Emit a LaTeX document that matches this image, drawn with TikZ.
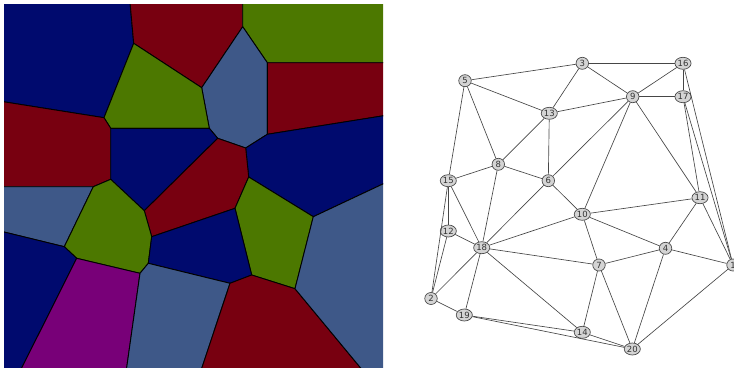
\documentclass[tikz,border=0pt]{standalone}
\usepackage{fontspec}
\setmainfont{DejaVu Sans}
\usetikzlibrary{shapes.geometric}
\definecolor{vblue}{RGB}{0,10,110}
\definecolor{vred}{RGB}{120,0,16}
\definecolor{vgreen}{RGB}{76,120,0}
\definecolor{vsteel}{RGB}{62,88,136}
\definecolor{vpurple}{RGB}{120,0,120}
\definecolor{edgegray}{RGB}{70,70,70}
\definecolor{nodefill}{RGB}{212,212,212}
\tikzset{
  cell/.style={draw=black, line width=0.9pt, line join=round},
  gnode/.style={ellipse, draw=black!70, fill=nodefill, line width=0.7pt,
    inner xsep=0.3pt, inner ysep=0.8pt, minimum width=12.5pt, minimum height=12pt,
    text=black!80, font=\fontsize{8.5}{9}\selectfont},
  gedge/.style={draw=edgegray, line width=0.65pt}
}
\begin{document}
\begin{tikzpicture}[x=1pt,y=-1pt]
\useasboundingbox (0,0) rectangle (734,367);
\begin{scope}
\clip (4,4) rectangle (383,367);
\filldraw[cell, fill=vblue] (2,2) -- (130,2) -- (133.7,43.3) -- (104,117.7) -- (2,101.5) -- cycle;
\filldraw[cell, fill=vred] (130,2) -- (242.7,2) -- (242.7,26.7) -- (201.7,87.7) -- (133.7,43.3) -- cycle;
\filldraw[cell, fill=vgreen] (242.7,2) -- (385,2) -- (385,62.7) -- (267.3,62.7) -- (242.7,26.7) -- cycle;
\filldraw[cell, fill=vsteel] (242.7,26.7) -- (267.3,62.7) -- (267.3,134.3) -- (245.7,148) -- (217.7,138.3) -- (209.3,128.3) -- (201.7,87.7) -- cycle;
\filldraw[cell, fill=vgreen] (133.7,43.3) -- (201.7,87.7) -- (209.3,128.3) -- (110.7,128.3) -- (104,117.7) -- cycle;
\filldraw[cell, fill=vred] (267.3,62.7) -- (385,62.7) -- (385,115.5) -- (267.3,134.3) -- cycle;
\filldraw[cell, fill=vred] (2,101.5) -- (104,117.7) -- (110.7,128.3) -- (110.7,179.3) -- (93.3,186.7) -- (2,186.7) -- cycle;
\filldraw[cell, fill=vblue] (110.7,128.3) -- (209.3,128.3) -- (217.7,138.3) -- (144.3,210.7) -- (110.7,179.3) -- cycle;
\filldraw[cell, fill=vblue] (267.3,134.3) -- (385,115.5) -- (385,183) -- (313.3,216.7) -- (248.7,177) -- (245.7,148) -- cycle;
\filldraw[cell, fill=vred] (144.3,210.7) -- (217.7,138.3) -- (245.7,148) -- (248.7,177) -- (235,208.3) -- (151.7,236.7) -- cycle;
\filldraw[cell, fill=vsteel] (2,186.7) -- (93.3,186.7) -- (64.3,246.7) -- (2,231.5) -- cycle;
\filldraw[cell, fill=vgreen] (93.3,186.7) -- (110.7,179.3) -- (144.3,210.7) -- (151.7,236.7) -- (148.3,263.3) -- (140,273.3) -- (76.7,258.3) -- (64.3,246.7) -- cycle;
\filldraw[cell, fill=vgreen] (248.7,177) -- (313.3,216.7) -- (295,288.7) -- (251.7,275) -- (235,208.3) -- cycle;
\filldraw[cell, fill=vblue] (151.7,236.7) -- (235,208.3) -- (251.7,275) -- (230,283.3) -- (148.3,263.3) -- cycle;
\filldraw[cell, fill=vblue] (2,231.5) -- (64.3,246.7) -- (76.7,258.3) -- (21.2,369) -- (2,369) -- cycle;
\filldraw[cell, fill=vpurple] (76.7,258.3) -- (140,273.3) -- (126.5,369) -- (21.2,369) -- cycle;
\filldraw[cell, fill=vsteel] (140,273.3) -- (148.3,263.3) -- (230,283.3) -- (201.5,369) -- (126.5,369) -- cycle;
\filldraw[cell, fill=vred] (230,283.3) -- (251.7,275) -- (295,288.7) -- (361.5,369) -- (201.5,369) -- cycle;
\filldraw[cell, fill=vsteel] (313.3,216.7) -- (385,183) -- (385,369) -- (361.5,369) -- (295,288.7) -- cycle;
\end{scope}
% graph nodes
\node[gnode] (n1) at (733,265) {1};
\node[gnode] (n2) at (431,298.5) {2};
\node[gnode] (n3) at (582.3,63.3) {3};
\node[gnode] (n4) at (665.5,248.3) {4};
\node[gnode] (n5) at (465,80.7) {5};
\node[gnode] (n6) at (548.3,180.7) {6};
\node[gnode] (n7) at (599,265) {7};
\node[gnode] (n8) at (498.3,164.3) {8};
\node[gnode] (n9) at (632.7,96.7) {9};
\node[gnode] (n10) at (582.3,214.3) {10};
\node[gnode] (n11) at (700,197.7) {11};
\node[gnode] (n12) at (448.3,231) {12};
\node[gnode] (n13) at (549.3,113.3) {13};
\node[gnode] (n14) at (582.3,332.3) {14};
\node[gnode] (n15) at (448.3,180.7) {15};
\node[gnode] (n16) at (683,63.3) {16};
\node[gnode] (n17) at (683,96.7) {17};
\node[gnode] (n18) at (481.7,247.7) {18};
\node[gnode] (n19) at (464.3,315) {19};
\node[gnode] (n20) at (632.3,349) {20};
% edges
\foreach \a/\b in {5/3,5/13,5/8,5/15,3/16,3/9,3/13,16/9,16/17,16/1,17/9,17/11,17/1,
  9/13,9/6,9/10,9/11,13/8,13/6,8/15,8/6,8/18,15/12,15/2,15/18,6/18,6/10,
  12/18,12/2,18/10,18/7,18/14,18/2,18/19,10/11,10/4,10/7,11/4,11/1,4/1,4/7,4/20,
  7/14,7/20,1/20,14/20,14/19,20/19,19/2}
  \draw[gedge] (n\a) -- (n\b);
\end{tikzpicture}
\end{document}
